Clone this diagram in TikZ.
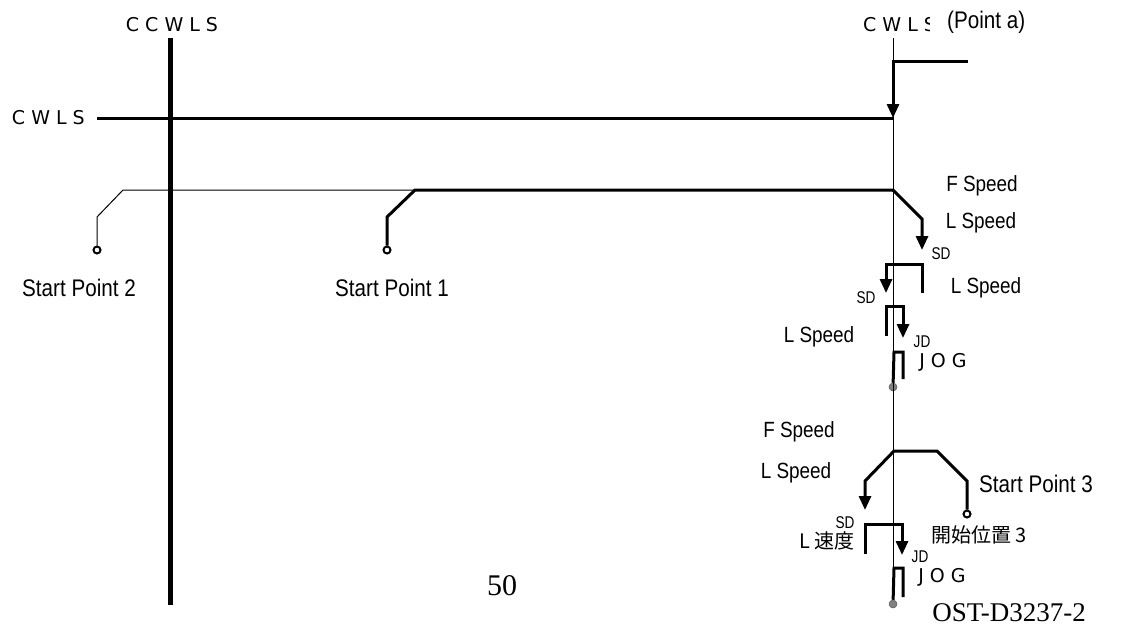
\documentclass[tikz,border=0pt]{standalone}
\usepackage{fontspec}
\setmainfont{Liberation Sans}
\newfontfamily\narrowfont[FakeStretch=0.86]{Liberation Sans}
\newfontfamily\tagfont[FakeStretch=0.8]{Liberation Sans}
\newfontfamily\switchfont{DejaVu Sans}
\newfontfamily\jpfont{Noto Sans CJK JP}
\newfontfamily\serialfont{Liberation Serif}
\usetikzlibrary{arrows.meta}

\tikzset{
  switchline/.style={line width=5pt},
  travel/.style={line width=3pt},
  guide/.style={line width=1pt},
  speed/.style={font=\narrowfont\fontsize{22}{24}\selectfont, inner sep=0pt, anchor=base},
  startlbl/.style={font=\narrowfont\fontsize{24}{26}\selectfont, inner sep=0pt},
  tag/.style={font=\tagfont\fontsize{17}{18}\selectfont, inner sep=0pt, anchor=base},
  swlbl/.style={font=\switchfont\fontsize{19}{20}\selectfont, inner sep=0pt},
  jplbl/.style={font=\jpfont\fontsize{20}{22}\selectfont, inner sep=0pt},
  startpt/.style={circle, draw, line width=2pt, fill=white, inner sep=0pt, minimum size=7pt},
  homept/.style={circle, fill=gray, draw=gray!70!black, line width=0.5pt, inner sep=0pt, minimum size=8pt}
}

\begin{document}
\begin{tikzpicture}[x=1pt, y=-1pt, >={Triangle[length=14pt,width=12pt]}]
  \useasboundingbox (0,0) rectangle (1139,630);

  % Limit switches
  \coordinate (ccw top) at (170,38);
  \coordinate (ccw bot) at (170,605);
  \draw[switchline] (ccw top) -- (ccw bot);
  \node[swlbl] (ccwls) at (172,25) {C C W L S};

  \node[swlbl, anchor=east] (cwls) at (85,118) {C W L S};
  \coordinate (cw left) at (97,118);
  \coordinate (cw right) at (893,118);
  \draw[travel] (cw left) -- (cw right);

  % Point a
  \coordinate (pa top) at (893,38);
  \node[homept] (home1) at (893,387) {};
  \node[homept] (home2) at (893,604) {};
  \draw[guide] (pa top) -- (home2);
  \node[swlbl, anchor=west] (cwls a) at (863,25) {C W L S};
  \node[font=\narrowfont\fontsize{24}{26}\selectfont, fill=white, anchor=west,
        inner xsep=0pt, inner ysep=4pt] (pointa) at (930,22) {\hspace*{17pt}(Point a)};

  \coordinate (cw in) at (968,61);
  \draw[travel,->] (cw in) -- (893,61) -- (cw right);

  % Start points 1 and 2
  \coordinate (split) at (415,190);
  \coordinate (far) at (123,190);
  \coordinate (turn) at (893,190);
  \node[startpt] (sp1) at (387,250) {};
  \node[startpt] (sp2) at (97,250) {};
  \draw[guide] (sp2) -- (97,217) -- (far) -- (split);
  \draw[travel] (sp1) -- (387,217) -- (split) -- (turn);
  \node[startlbl] (sp2 lbl) at (79,288) {Start Point 2};
  \node[startlbl] (sp1 lbl) at (392,288) {Start Point 1};

  % Approach from start points 1 and 2
  \draw[travel,->] (turn) -- (922,219) -- (922,250);
  \node[speed] (fs1) at (982,191) {F Speed};
  \node[speed] (ls1) at (981,228) {L Speed};
  \node[tag] (sd1) at (941,259) {SD};

  \draw[travel,->] (922,293) -- (922,264) -- (886,264) -- (886,293);
  \node[speed] (ls2) at (986,293) {L Speed};
  \node[tag] (sd2) at (866,303) {SD};

  \draw[travel,->] (886,336) -- (886,306) -- (903,306) -- (903,338);
  \node[speed] (ls3) at (819,342) {L Speed};
  \node[tag] (jd1) at (922,347) {JD};

  \draw[travel] (home1) -- (894,352) -- (903,352) -- (903,379);
  \node[swlbl, anchor=base] (jog1) at (943,367) {J O G};

  % Approach from start point 3
  \node[startpt] (sp3) at (967,514) {};
  \draw[travel,->] (sp3) -- (967,481) -- (937,451) -- (894,451) -- (865,481) -- (865,510);
  \node[speed] (fs2) at (799,437) {F Speed};
  \node[speed] (ls4) at (796,478) {L Speed};
  \node[startlbl] (sp3 lbl) at (1036,484) {Start Point 3};
  \node[jplbl] (sp3 jp) at (979,535) {開始位置 3};
  \node[tag] (sd3) at (845,528) {SD};
  \node[jplbl] (ls jp) at (827,541) {L 速度};

  \draw[travel,->] (865,554) -- (865,524) -- (902,524) -- (902,555);
  \node[tag] (jd2) at (920,562) {JD};

  \draw[travel] (home2) -- (894,568) -- (903,568) -- (903,597);
  \node[swlbl, anchor=base] (jog2) at (942,582) {J O G};

  % Page marks
  \node[font=\serialfont\fontsize{30}{32}\selectfont] (page) at (502,586) {50};
  \node[font=\serialfont\fontsize{27}{30}\selectfont] (docid) at (1009,613) {OST-D3237-2};
\end{tikzpicture}
\end{document}
